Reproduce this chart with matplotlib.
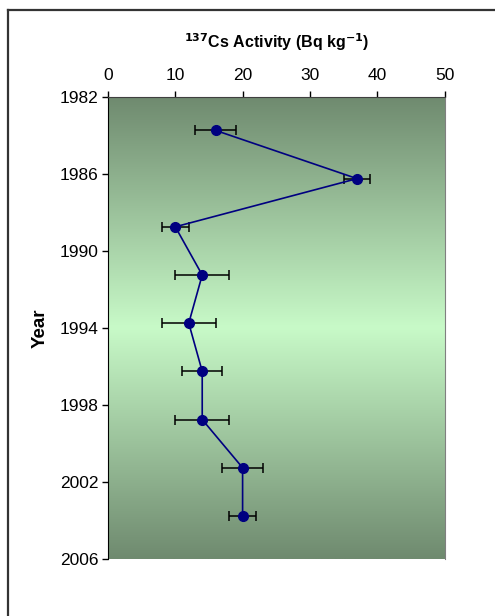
import numpy as np
import matplotlib
matplotlib.use("Agg")
import matplotlib.pyplot as plt
from matplotlib.colors import LinearSegmentedColormap
from matplotlib.lines import Line2D

plt.rcParams['font.family'] = ['Liberation Sans', 'DejaVu Sans']

# 137Cs activity profile by year
years = [1983.75, 1986.25, 1988.75, 1991.25, 1993.75, 1996.25, 1998.75, 2001.25, 2003.75]
activity = [16, 37, 10, 14, 12, 14, 14, 20, 20]
activity_err = [3, 2, 2, 4, 4, 3, 4, 3, 2]
x_ticks = [0, 10, 20, 30, 40, 50]
y_ticks = [1982, 1986, 1990, 1994, 1998, 2002, 2006]

fig = plt.figure(figsize=(4.95, 6.16), dpi=100)
ax = fig.add_axes([108 / 495, 1 - 559.3 / 616, 336.5 / 495, 462.6 / 616])

# green background, dark at the edges and pale in the middle
cmap = LinearSegmentedColormap.from_list(
    'band', [(0.0, '#6f8a6f'), (0.5, '#c8fac8'), (1.0, '#6f8a6f')])
grad = np.linspace(0, 1, 256).reshape(-1, 1)
ax.imshow(grad, cmap=cmap, aspect='auto', extent=[0, 50, 2006, 1982],
          zorder=0, interpolation='bilinear')

ax.errorbar(activity, years, xerr=activity_err, fmt='none', ecolor='black',
            elinewidth=1.1, capsize=3.5, capthick=1.1, zorder=2)
ax.plot(activity, years, color='#000080', lw=1.2, marker='o', ms=7,
        mfc='#000080', mec='#000080', zorder=3)

ax.set_xlim(0, 50)
ax.set_ylim(2006, 1982)
ax.set_xticks(x_ticks)
ax.set_yticks(y_ticks)
ax.xaxis.tick_top()
ax.xaxis.set_label_position('top')
ax.tick_params(axis='both', direction='out', length=4, width=1, labelsize=12.5,
               pad=3, colors='black')
ax.tick_params(axis='x', pad=6)
ax.set_xlabel(r'$\mathbf{^{137}}$Cs Activity (Bq kg$\mathbf{^{-1}}$)',
              fontsize=11.5, fontweight='bold', labelpad=14)
ax.set_ylabel('Year', fontsize=13.5, fontweight='bold', labelpad=8)

ax.spines['left'].set_color('black')
ax.spines['top'].set_color('#404040')
ax.spines['right'].set_color('#808080')
ax.spines['bottom'].set_visible(False)

# chart frame along the top and left edges
fig.add_artist(Line2D([8 / 495, 1], [1 - 10 / 616] * 2, transform=fig.transFigure,
                      color='#333333', lw=1.6))
fig.add_artist(Line2D([8 / 495] * 2, [0, 1 - 10 / 616], transform=fig.transFigure,
                      color='#333333', lw=1.6))

fig.savefig('out.png', dpi=100)
